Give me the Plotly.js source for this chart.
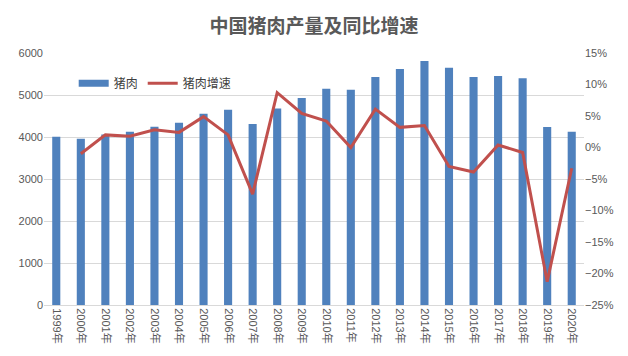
<!DOCTYPE html>
<html><head><meta charset="utf-8">
<script src="https://cdn.plot.ly/plotly-3.0.1.min.js"></script>
<style>html,body{margin:0;padding:0;background:#fff}#c{width:628px;height:356px}</style>
</head><body><div id="c"></div>
<script>
const years = ['1999年','2000年','2001年','2002年','2003年','2004年','2005年','2006年','2007年','2008年','2009年','2010年','2011年','2012年','2013年','2014年','2015年','2016年','2017年','2018年','2019年','2020年'];
const porkOutput = [4005,3960,4060,4124,4245,4340,4555,4650,4310,4680,4930,5150,5125,5430,5620,5810,5650,5430,5450,5400,4240,4125];
const growthYears = years.slice(1);
const porkGrowth = [-0.010,0.020,0.018,0.028,0.024,0.049,0.020,-0.074,0.087,0.054,0.042,0.000,0.061,0.032,0.035,-0.030,-0.039,0.004,-0.008,-0.213,-0.033];

const tickFont = {family:'"Liberation Sans", Arial, sans-serif', size:11, color:'#595959'};
Plotly.newPlot('c', [
  {type:'bar', name:'猪肉', x:years, y:porkOutput, marker:{color:'#4f81bd'}, yaxis:'y', showlegend:false},
  {type:'scatter', mode:'lines', name:'猪肉', x:[null], y:[null], line:{color:'#4f81bd', width:7}, yaxis:'y', showlegend:true},
  {type:'scatter', mode:'lines', name:'猪肉增速', x:growthYears, y:porkGrowth, line:{color:'#c0504d', width:3}, yaxis:'y2'}
], {
  width:628, height:356,
  margin:{l:44, r:44, t:53, b:51},
  paper_bgcolor:'#fff', plot_bgcolor:'#fff',
  title:{text:'<b>中国猪肉产量及同比增速</b>', x:0.5, xanchor:'center', y:0.927, yanchor:'middle',
         font:{family:'"Noto Sans CJK SC", sans-serif', size:19, color:'#595959'}},
  bargap:0.67,
  showlegend:true,
  legend:{orientation:'h', x:0.055, xanchor:'left', y:0.88, yanchor:'middle', bgcolor:'rgba(0,0,0,0)',
          font:{family:'"Noto Sans CJK SC", sans-serif', size:12, color:'#404040'}, itemwidth:30, traceorder:'normal'},
  xaxis:{type:'category', categoryarray:years, categoryorder:'array', tickangle:90, tickfont:{family:'"Liberation Sans", "Noto Sans CJK SC", sans-serif', size:11, color:'#595959'},
         showgrid:false, showline:true, linecolor:'#d9d9d9', ticks:'', fixedrange:true},
  yaxis:{range:[0,6000], dtick:1000, tickfont:tickFont, gridcolor:'#d9d9d9', zeroline:false, showline:false, ticks:'', tickformat:'d'},
  yaxis2:{overlaying:'y', side:'right', range:[-0.25,0.15], dtick:0.05, tickformat:'.0%', tickfont:tickFont,
          showgrid:false, zeroline:false, showline:false, ticks:''}
}, {displayModeBar:false, staticPlot:true});
</script></body></html>
